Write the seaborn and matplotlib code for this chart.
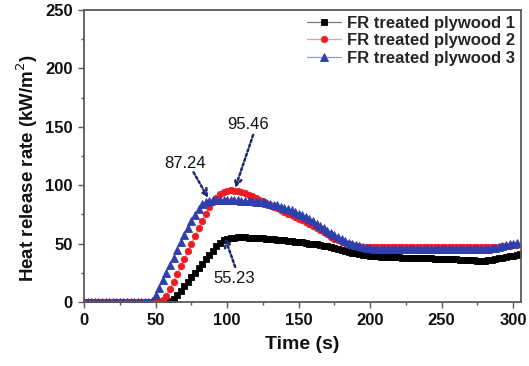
import numpy as np
import pandas as pd
import matplotlib
matplotlib.use("Agg")
import matplotlib.pyplot as plt
import seaborn as sns
from matplotlib.ticker import MultipleLocator

# ---- data (sampled every 2.5 s) ----
step = 2.5
labels = ["FR treated plywood 1", "FR treated plywood 2", "FR treated plywood 3"]

hrr1 = [0]*24 + [
    0.5, 2.5, 6, 9.8, 13.6, 17.4, 21.2, 25, 28.8, 32.6,
    36.4, 40.2, 44, 47.5, 50.5, 52.8, 54.2, 54.9, 55.15, 55.23,
    55.2, 55.2, 55.1, 55.0, 54.9, 54.7, 54.5, 54.3, 54.0, 53.7,
    53.4, 53.1, 52.8, 52.5, 52.1, 51.7, 51.3, 50.9, 50.5, 50.0,
    49.6, 49.2, 48.8, 48.3, 47.7, 47.0, 46.3, 45.5, 44.7, 43.9,
    43.1, 42.3, 41.6, 41.0, 40.5, 40.1, 39.7, 39.4, 39.1, 38.9,
    38.7, 38.5, 38.4, 38.3, 38.1, 38.0, 37.9, 37.8, 37.7, 37.6,
    37.5, 37.4, 37.3, 37.2, 37.1, 37.0, 36.9, 36.8, 36.7, 36.6,
    36.5, 36.3, 36.1, 35.9, 35.7, 35.5, 35.4, 35.3, 35.4, 35.7,
    36.1, 36.6, 37.2, 37.8, 38.4, 39.0, 39.6, 40.2, 40.8]

hrr2 = [0]*22 + [
    1.5, 5, 11, 17.5, 24, 30.5, 37, 43.5, 50, 56.5,
    63, 69.5, 75.5, 81, 85.5, 89, 92, 94, 95.1, 95.46,
    95.3, 94.8, 94, 93, 91.8, 90.4, 89, 87.5, 86, 84.5,
    83, 81.5, 80, 78.5, 77, 75.6, 74.2, 72.8, 71.4, 70,
    68.5, 67, 65.3, 63.5, 61.6, 59.7, 57.8, 56, 54.3, 52.8,
    51.4, 50.2, 49.2, 48.5, 48, 47.6, 47.3, 47.1, 47, 46.9,
    46.8, 46.9, 46.8, 46.8, 46.7, 46.8, 46.8, 46.9, 46.8, 46.8,
    46.7, 46.7, 46.8, 46.8, 46.8, 46.7, 46.7, 46.8, 46.8, 46.9,
    46.8, 46.8, 46.8, 46.9, 46.9, 46.8, 46.8, 46.9, 46.9, 47.0,
    47.0, 47.0, 47.0, 47.1, 47.3, 47.6, 47.9, 48.2, 48.6, 49.0]

hrr3 = [0]*19 + [
    1, 6, 12, 18.5, 25, 31.5, 38, 44.5, 51, 57,
    63, 69, 74.5, 79.5, 83.5, 85.8, 86.8, 87.1, 87.2, 87.22,
    87.24, 87.2, 87.1, 87, 86.9, 86.8, 86.6, 86.4, 86.2, 85.9,
    85.6, 85.2, 84.7, 84.1, 83.4, 82.6, 81.7, 80.7, 79.6, 78.4,
    77, 75.5, 74, 72.4, 70.7, 68.9, 67, 65, 63, 61,
    59, 57, 55.2, 53.5, 52, 50.6, 49.4, 48.4, 47.5, 46.8,
    46.2, 45.8, 45.5, 45.3, 45.1, 45.0, 45.0, 44.9, 45.0, 45.0,
    45.0, 45.0, 44.9, 44.9, 45.0, 45.0, 45.0, 44.9, 44.9, 45.0,
    45.0, 45.0, 44.9, 45.0, 45.0, 45.0, 45.0, 44.9, 45.0, 45.0,
    45.0, 45.0, 45.1, 45.3, 45.6, 46.0, 46.6, 47.3, 48.0, 48.7,
    49.3, 49.8, 50.2]

series = [hrr1, hrr2, hrr3]

# annotations: (text, text pos, arrow tail, arrow head)
annotations = [
    ("87.24", (70.6, 118.5), (76.5, 111.0), (86.7, 89.0)),
    ("95.46", (114.5, 151.8), (118.2, 143.0), (105.6, 97.5)),
    ("55.23", (105.0, 19.7), (105.6, 30.0), (98.6, 54.5)),
]

# ---- style ----
sns.set_theme(style="white")
plt.rcParams['font.family'] = ['Liberation Sans', 'DejaVu Sans']

marker_cols = ["#000000", "#ee1d23", "#2e3fae"]
line_cols = ["#7a7a7a", "#f49a9c", "#8f9ad8"]
markers = ["s", "o", "^"]
msizes = [4.0, 4.6, 5.3]

fig = plt.figure(figsize=(5.29, 3.66), dpi=100)
ax = fig.add_axes([0.159, 0.175, 0.826, 0.798])

for vals, lab, mc, lc, mk, ms in zip(series, labels, marker_cols, line_cols, markers, msizes):
    df = pd.DataFrame({"t": np.arange(len(vals)) * step, "hrr": vals})
    sns.lineplot(data=df, x="t", y="hrr", ax=ax, color=lc, lw=0.9,
                 marker=mk, markersize=ms, markerfacecolor=mc,
                 markeredgecolor=mc, markeredgewidth=0.6, label=lab)

for txt, tp, tail, head in annotations:
    ax.text(tp[0], tp[1], txt, ha="center", va="center", fontsize=12, color="#111111")
    ax.annotate("", xy=head, xytext=tail,
                arrowprops=dict(arrowstyle="->", linestyle=(0, (1, 1)),
                                color="#1e2a6e", lw=1.8, shrinkA=0, shrinkB=0,
                                mutation_scale=12))

ax.set_xlim(0, 305.5)
ax.set_ylim(0, 250)
ax.xaxis.set_major_locator(MultipleLocator(50))
ax.xaxis.set_minor_locator(MultipleLocator(25))
ax.yaxis.set_major_locator(MultipleLocator(50))
ax.yaxis.set_minor_locator(MultipleLocator(25))

for sp in ax.spines.values():
    sp.set_color("#5a5a5a")
    sp.set_linewidth(1.3)

ax.tick_params(which="major", direction="out", length=4, width=1, color="#5a5a5a",
               labelsize=12, pad=4, bottom=True, left=True)
ax.tick_params(which="minor", direction="out", length=2.5, width=1, color="#5a5a5a",
               bottom=True, left=True)
for lbl in ax.get_xticklabels() + ax.get_yticklabels():
    lbl.set_fontweight("bold")
    lbl.set_color("#111111")

ax.set_xlabel("Time (s)", fontsize=14, fontweight="bold", labelpad=6, color="#111111")
ax.set_ylabel("Heat release rate (kW/m$^2$)", fontsize=13.5, fontweight="bold",
              color="#111111")
ax.yaxis.set_label_coords(-0.102, 0.46)

leg = ax.legend(loc="upper right", bbox_to_anchor=(1.0, 1.0), frameon=False,
                prop={"weight": "bold", "size": 12}, handlelength=2.0,
                handletextpad=0.4, labelspacing=0.15, borderaxespad=0.1,
                borderpad=0.25)

fig.savefig("out.png", dpi=100)
